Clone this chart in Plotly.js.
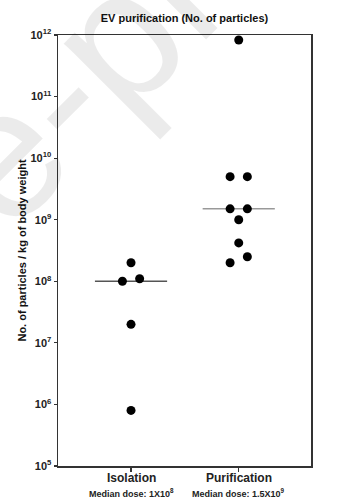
<!DOCTYPE html>
<html>
<head>
<meta charset="utf-8">
<script src="https://cdn.plot.ly/plotly-3.0.1.min.js"></script>
<style>html,body{margin:0;padding:0;background:#fff;}#chart{width:346px;height:503px;}</style>
</head>
<body>
<div id="chart"></div>
<script>
// ---- data ----
var categories = ["Isolation", "Purification"];
var doseLabels = ["Median dose: 1X10<sup>8</sup>", "Median dose: 1.5X10<sup>9</sup>"];
var isolationValues = [2e8, 1e8, 1.1e8, 2e7, 8e5];
var isolationJitter = [0, -0.08, 0.08, 0, 0];
var purificationValues = [8.3e11, 5e9, 5e9, 1.5e9, 1.5e9, 1e9, 4.2e8, 2.5e8, 2e8];
var purificationJitter = [0, -0.08, 0.08, -0.08, 0.08, 0, 0, 0.08, -0.08];
var yTickExponents = [5, 6, 7, 8, 9, 10, 11, 12];

function median(arr) {
  var s = arr.slice().sort(function (a, b) { return a - b; });
  var n = s.length;
  return n % 2 ? s[(n - 1) / 2] : (s[n / 2 - 1] + s[n / 2]) / 2;
}

var groups = [
  { values: isolationValues, jitter: isolationJitter },
  { values: purificationValues, jitter: purificationJitter }
];

var FONT = "Liberation Sans, Arial, sans-serif";
var traces = [];
groups.forEach(function (g, i) {
  var m = median(g.values);
  traces.push({
    type: "scatter", mode: "lines",
    x: [i - 0.335, i + 0.335], y: [m, m],
    line: { color: i === 0 ? "#555" : "#999", width: 1.5 },
    hoverinfo: "skip", showlegend: false, cliponaxis: false
  });
  traces.push({
    type: "scatter", mode: "markers",
    x: g.values.map(function (v, k) { return i + g.jitter[k]; }),
    y: g.values,
    marker: { color: "#000", size: 9 },
    showlegend: false, cliponaxis: false
  });
});

var annotations = [];
annotations.push({
  text: "Journal Pre-proof", x: -0.735, xref: "paper", y: 0.425, yref: "paper",
  showarrow: false, textangle: -45, xanchor: "center", yanchor: "middle",
  font: { family: FONT, size: 185, color: "rgba(0,0,0,0.08)" }
});
categories.forEach(function (c, i) {
  annotations.push({
    text: c, x: i, xref: "x", y: -0.028, yref: "paper",
    showarrow: false, xanchor: "center", yanchor: "middle",
    font: { family: FONT, size: 12, color: "#222", weight: "bold" }
  });
});
doseLabels.forEach(function (t, i) {
  annotations.push({
    text: t, x: i, xref: "x", y: -0.063, yref: "paper",
    showarrow: false, xanchor: "center", yanchor: "middle",
    font: { family: FONT, size: 9, color: "#222", weight: "bold" }
  });
});

var layout = {
  width: 346, height: 503,
  margin: { l: 58, r: 35, t: 35, b: 37 },
  paper_bgcolor: "#fff", plot_bgcolor: "#fff",
  title: {
    text: "EV purification (No. of particles)",
    x: 0.5, xref: "paper", y: 1 - 18 / 503, yref: "container", yanchor: "middle",
    font: { family: FONT, size: 11, color: "#111", weight: "bold" }
  },
  xaxis: {
    range: [-0.678, 1.671],
    tickvals: [0, 1], showticklabels: false,
    ticks: "outside", ticklen: 4, tickwidth: 1.2, tickcolor: "#333",
    showline: true, linecolor: "#333", linewidth: 1.5, mirror: true,
    showgrid: false, zeroline: false, fixedrange: true
  },
  yaxis: {
    type: "log", range: [5, 12],
    tickvals: yTickExponents.map(function (e) { return Math.pow(10, e); }),
    ticktext: yTickExponents.map(function (e) { return "10<sup>" + e + "</sup>"; }),
    tickfont: { family: FONT, size: 11, color: "#222", weight: "bold" },
    ticks: "outside", ticklen: 3, tickwidth: 1.2, tickcolor: "#333",
    showline: true, linecolor: "#333", linewidth: 1.5, mirror: true,
    showgrid: false, zeroline: false, fixedrange: true,
    title: {
      text: "No. of particles / kg of body weight",
      font: { family: FONT, size: 11, color: "#111", weight: "bold" },
      standoff: 1
    }
  },
  annotations: annotations
};

Plotly.newPlot("chart", traces, layout, { staticPlot: true, displayModeBar: false });
</script>
</body>
</html>
